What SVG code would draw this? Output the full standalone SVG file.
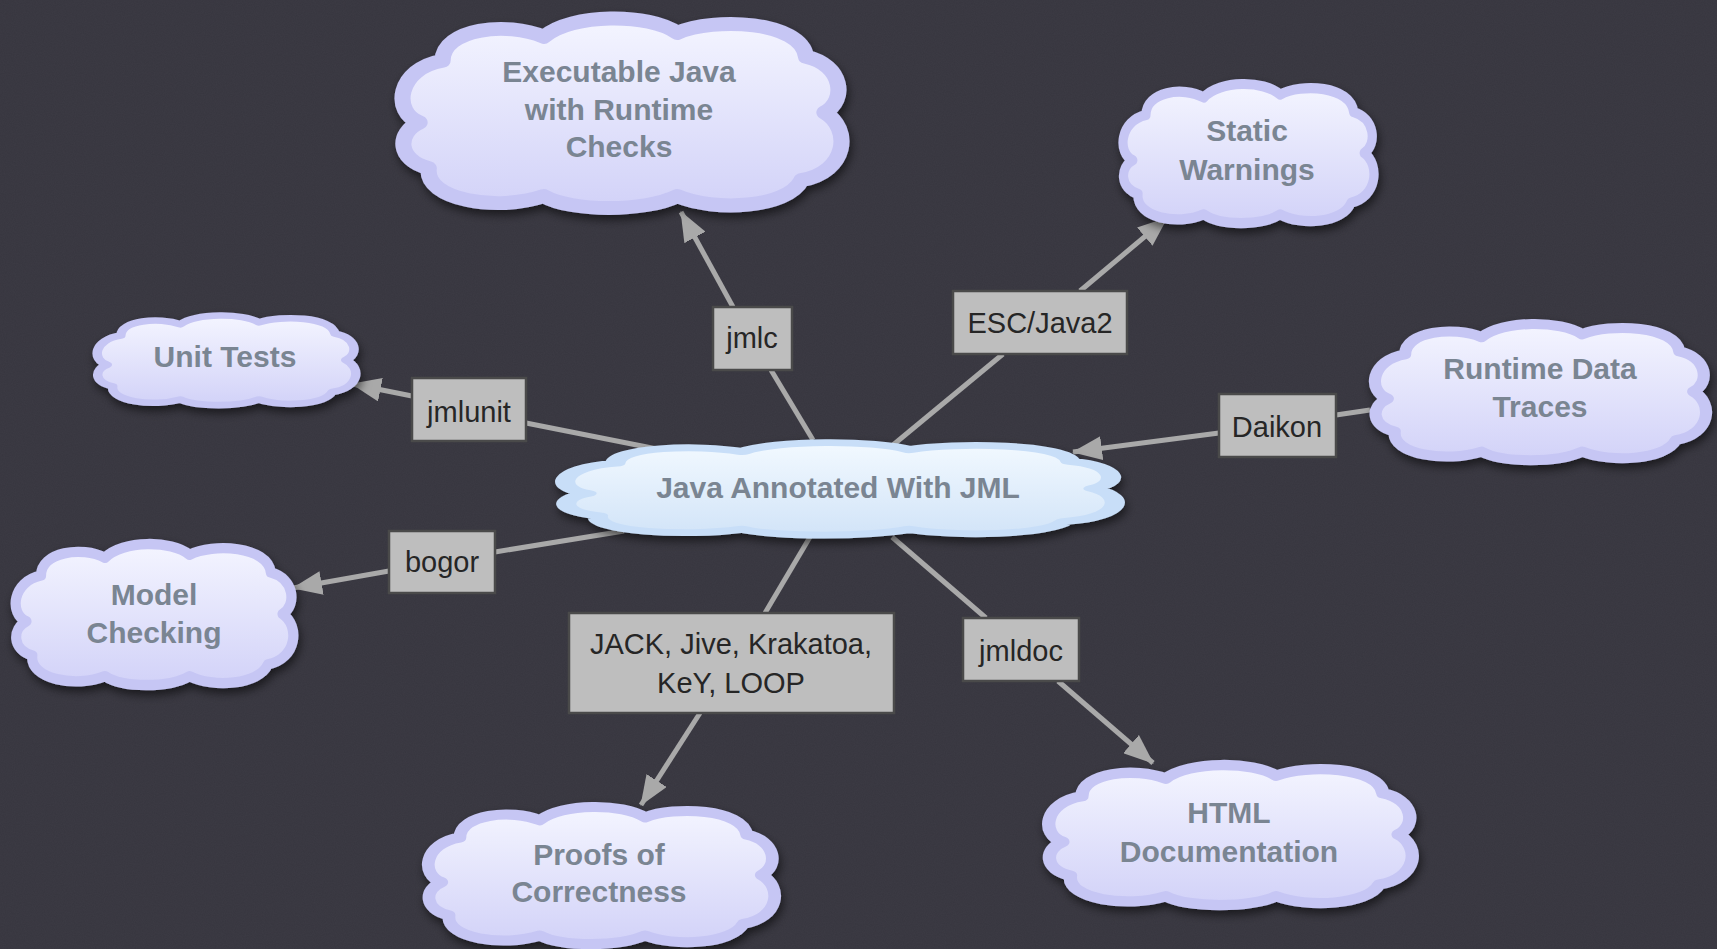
<svg xmlns="http://www.w3.org/2000/svg" xmlns:xlink="http://www.w3.org/1999/xlink" width="1717" height="949" viewBox="0 0 1717 949">
<style>
.bg{fill:#37363f}
.cl{fill:url(#cg);stroke:#c6c6f4;stroke-width:7;vector-effect:non-scaling-stroke;stroke-linejoin:round}
.clc{fill:url(#cgc);stroke:#c8def8;stroke-width:7;vector-effect:non-scaling-stroke;stroke-linejoin:round}
.ct{font-family:"Liberation Sans",Arial,Helvetica,sans-serif;font-weight:bold;font-size:30px;fill:#7a8592;text-anchor:middle}
.bx{fill:#bebebe;stroke:#4a4a4a;stroke-width:2.5}
.bt{font-family:"Liberation Sans",Arial,Helvetica,sans-serif;font-size:29px;fill:#262626;text-anchor:middle}
.ln{stroke:#a9a9a9;stroke-width:5;fill:none}
.ar{marker-end:url(#ah)}
</style>
<defs>
<linearGradient id="cg" x1="0" y1="0" x2="0" y2="1">
<stop offset="0" stop-color="#f4f5ff"/>
<stop offset="1" stop-color="#d2d2f8"/>
</linearGradient>
<linearGradient id="cgc" x1="0" y1="0" x2="0" y2="1">
<stop offset="0" stop-color="#f2f9ff"/>
<stop offset="1" stop-color="#d2e4f8"/>
</linearGradient>
<filter id="sh" x="-10%" y="-10%" width="125%" height="130%">
<feDropShadow dx="2" dy="5" stdDeviation="5" flood-color="#000" flood-opacity="0.55"/>
</filter>
<filter id="noise" x="0" y="0" width="100%" height="100%">
<feTurbulence type="fractalNoise" baseFrequency="0.9" numOctaves="2" seed="3"/>
<feColorMatrix type="matrix" values="0 0 0 0 0.5  0 0 0 0 0.45  0 0 0 0 0.5  0 0 0 0.35 0"/>
</filter>
<marker id="ah" markerUnits="userSpaceOnUse" markerWidth="30" markerHeight="24" refX="29" refY="12" orient="auto">
<path d="M0,0 L30,12 L0,24 Z" fill="#a9a9a9"/>
</marker>
<path id="cloud" d="M 12,55 C 0,50 2,28 22,24 C 22,8 50,4 66,12 C 78,0 112,0 124,10 C 140,2 178,4 180,22 C 196,26 198,44 188,50 C 200,58 198,80 178,84 C 172,98 140,100 124,92 C 110,100 78,100 66,92 C 46,100 14,94 16,78 C 2,74 2,60 12,55 Z"/>
</defs>
<rect class="bg" x="0" y="0" width="1717" height="949"/>
<rect x="0" y="0" width="1717" height="949" filter="url(#noise)" opacity="0.12"/>

<g id="connectors">
<line class="ln" x1="813" y1="440" x2="771" y2="370"/>
<line class="ln ar" x1="733" y1="307" x2="681" y2="212"/>
<line class="ln" x1="893" y1="445" x2="1003" y2="354"/>
<line class="ln ar" x1="1080" y1="291" x2="1167" y2="218"/>
<line class="ln" x1="1370" y1="410" x2="1336" y2="415"/>
<line class="ln ar" x1="1219" y1="433" x2="1073" y2="452"/>
<line class="ln" x1="657" y1="449" x2="526" y2="423"/>
<line class="ln ar" x1="412" y1="396" x2="352" y2="384"/>
<line class="ln" x1="624" y1="531" x2="495" y2="552"/>
<line class="ln ar" x1="389" y1="571" x2="293" y2="588"/>
<line class="ln" x1="810" y1="537" x2="765" y2="613"/>
<line class="ln ar" x1="700" y1="713" x2="641" y2="805"/>
<line class="ln" x1="892" y1="537" x2="986" y2="618"/>
<line class="ln ar" x1="1058" y1="681" x2="1153" y2="763"/>
</g>

<g id="n-executable">
<g filter="url(#sh)"><use xlink:href="#cloud" class="cl" transform="translate(392,13) scale(2.3,1.99)"/></g>
<text class="ct" x="619" y="82">Executable Java</text>
<text class="ct" x="619" y="120">with Runtime</text>
<text class="ct" x="619" y="157">Checks</text>
</g>

<g id="n-static">
<g filter="url(#sh)"><use xlink:href="#cloud" class="cl" transform="translate(1117,80) scale(1.315,1.46)"/></g>
<text class="ct" x="1247" y="141">Static</text>
<text class="ct" x="1247" y="180">Warnings</text>
</g>

<g id="n-unittests">
<g filter="url(#sh)"><use xlink:href="#cloud" class="cl" transform="translate(91,313) scale(1.355,0.94)"/></g>
<text class="ct" x="225" y="367">Unit Tests</text>
</g>

<g id="n-runtime">
<g filter="url(#sh)"><use xlink:href="#cloud" class="cl" transform="translate(1367,320) scale(1.735,1.43)"/></g>
<text class="ct" x="1540" y="379">Runtime Data</text>
<text class="ct" x="1540" y="417">Traces</text>
</g>

<g id="n-central">
<g filter="url(#sh)"><use xlink:href="#cloud" class="clc" transform="translate(552,440) scale(2.88,0.97)"/></g>
<text class="ct" x="838" y="498">Java Annotated With JML</text>
</g>

<g id="n-model">
<g filter="url(#sh)"><use xlink:href="#cloud" class="cl" transform="translate(9,540) scale(1.455,1.48)"/></g>
<text class="ct" x="154" y="605">Model</text>
<text class="ct" x="154" y="643">Checking</text>
</g>

<g id="n-proofs">
<g filter="url(#sh)"><use xlink:href="#cloud" class="cl" transform="translate(420,803) scale(1.815,1.44)"/></g>
<text class="ct" x="599" y="865">Proofs of</text>
<text class="ct" x="599" y="902">Correctness</text>
</g>

<g id="n-html">
<g filter="url(#sh)"><use xlink:href="#cloud" class="cl" transform="translate(1040,761) scale(1.905,1.47)"/></g>
<text class="ct" x="1229" y="823">HTML</text>
<text class="ct" x="1229" y="862">Documentation</text>
</g>

<g id="l-jmlc">
<rect class="bx" x="713" y="307" width="79" height="63"/>
<text class="bt" x="752" y="348">jmlc</text>
</g>
<g id="l-esc">
<rect class="bx" x="953" y="291" width="174" height="63"/>
<text class="bt" x="1040" y="333">ESC/Java2</text>
</g>
<g id="l-daikon">
<rect class="bx" x="1219" y="394" width="117" height="63"/>
<text class="bt" x="1277" y="437">Daikon</text>
</g>
<g id="l-jmlunit">
<rect class="bx" x="412" y="378" width="114" height="63"/>
<text class="bt" x="469" y="422">jmlunit</text>
</g>
<g id="l-bogor">
<rect class="bx" x="389" y="531" width="106" height="62"/>
<text class="bt" x="442" y="572">bogor</text>
</g>
<g id="l-jack">
<rect class="bx" x="569" y="613" width="325" height="100"/>
<text class="bt" x="731" y="654">JACK, Jive, Krakatoa,</text>
<text class="bt" x="731" y="693">KeY, LOOP</text>
</g>
<g id="l-jmldoc">
<rect class="bx" x="963" y="618" width="116" height="63"/>
<text class="bt" x="1021" y="661">jmldoc</text>
</g>
</svg>
